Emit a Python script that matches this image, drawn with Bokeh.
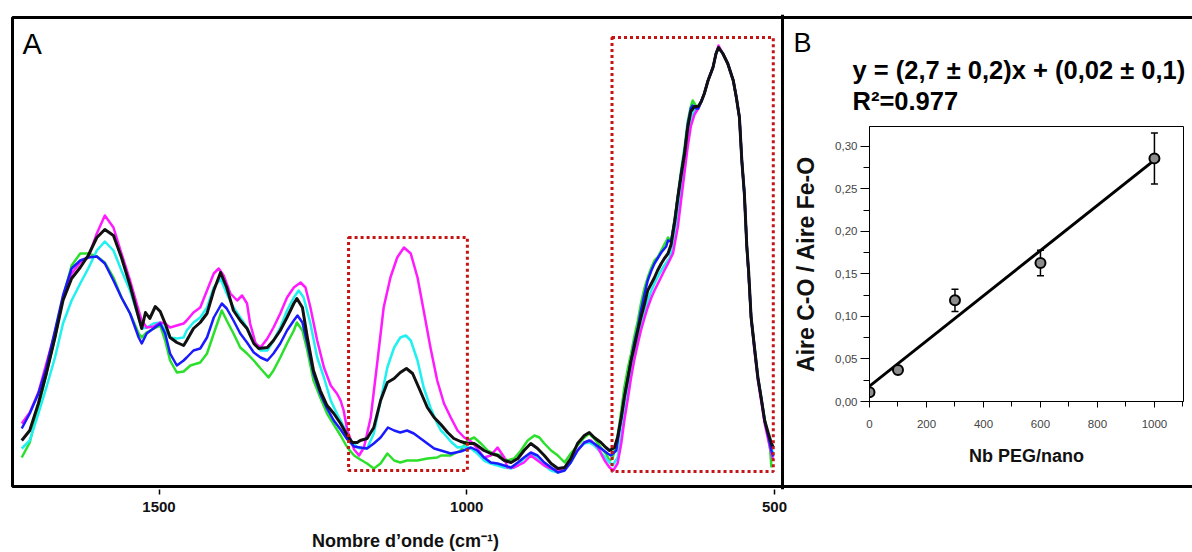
from bokeh.plotting import figure
from bokeh.models import (Range1d, FixedTicker, Label, Span, Whisker, TeeHead,
                          BoxAnnotation, ColumnDataSource, CustomJSTickFormatter)
from bokeh.embed import file_html
from bokeh.resources import INLINE

# ---------------- Panel A : FTIR spectra (wavenumber cm-1, absorbance a.u.) ----------------
green_wn = [1723,1710,1696,1683,1669,1656,1642,1628,1615,1601,
            1588,1574,1561,1547,1533,1528,1520,1509,1498,1490,
            1482,1471,1460,1449,1433,1422,1411,1398,1390,1379,
            1368,1357,1346,1335,1322,1314,1303,1292,1281,1276,
            1267,1259,1249,1238,1227,1216,1205,1194,1183,1173,
            1162,1151,1140,1129,1118,1108,1097,1080,1064,1048,
            1042,1026,1010,999,988,977,966,956,945,934,
            923,912,901,890,882,874,863,852,841,831,
            820,809,801,793,782,774,768,763,755,749,
            744,738,733,728,722,717,711,706,700,695,
            690,684,679,676,673,668,662,657,652,646,
            641,636,633,627,624,619,614,608,600,595,
            591,584,576,567,562,557,553,549,545,542,
            538,532,527,521,516,510,507,505]
green_abs = [0.29,0.44,0.79,1.13,1.49,1.89,2.21,2.33,2.33,2.30,
             2.24,2.09,1.89,1.73,1.53,1.49,1.54,1.58,1.61,1.46,
             1.26,1.14,1.15,1.21,1.24,1.33,1.53,1.76,1.66,1.53,
             1.39,1.33,1.26,1.18,1.09,1.16,1.29,1.43,1.56,1.64,
             1.56,1.36,1.06,0.89,0.73,0.62,0.51,0.39,0.31,0.27,
             0.23,0.18,0.23,0.33,0.26,0.24,0.26,0.26,0.28,0.29,
             0.31,0.31,0.36,0.46,0.49,0.43,0.36,0.33,0.31,0.26,
             0.28,0.36,0.46,0.51,0.49,0.43,0.36,0.31,0.24,0.33,
             0.41,0.49,0.53,0.48,0.39,0.33,0.26,0.28,0.49,0.76,
             0.99,1.19,1.33,1.49,1.66,1.83,1.99,2.09,2.19,2.26,
             2.29,2.36,2.42,2.45,2.49,2.45,2.69,2.92,3.15,3.40,
             3.65,3.80,3.86,3.80,3.78,3.85,3.93,4.06,4.19,4.33,
             4.39,4.33,4.23,4.06,3.89,3.69,3.25,2.93,2.40,2.12,
             1.69,1.36,1.09,0.86,0.66,0.49,0.36,0.19]

blue_wn = [1723,1710,1696,1683,1669,1656,1642,1628,1615,1601,
           1588,1574,1561,1547,1533,1528,1520,1509,1498,1490,
           1482,1471,1460,1455,1444,1433,1422,1411,1398,1390,
           1379,1368,1357,1346,1335,1324,1314,1303,1292,1281,
           1275,1267,1259,1249,1238,1227,1216,1205,1194,1183,
           1173,1162,1151,1140,1128,1118,1108,1097,1086,1075,
           1064,1053,1042,1026,1010,993,983,972,961,950,
           939,928,917,907,896,885,874,863,852,841,
           831,820,809,801,793,782,771,766,757,752,
           744,736,728,722,717,711,706,700,695,690,
           684,676,673,668,662,657,652,646,641,636,
           633,627,624,619,614,608,600,595,591,584,
           576,567,562,557,553,549,545,542,538,532,
           527,521,516,510,505,502]
blue_abs = [0.58,0.73,0.93,1.19,1.56,1.91,2.18,2.26,2.29,2.30,
            2.23,2.06,1.89,1.73,1.49,1.43,1.53,1.58,1.63,1.53,
            1.33,1.21,1.26,1.29,1.36,1.38,1.49,1.69,1.83,1.78,
            1.66,1.53,1.44,1.34,1.29,1.26,1.33,1.43,1.56,1.66,
            1.71,1.64,1.43,1.13,0.93,0.78,0.66,0.57,0.47,0.40,
            0.39,0.38,0.43,0.49,0.59,0.56,0.54,0.56,0.53,0.48,
            0.43,0.38,0.36,0.33,0.35,0.39,0.36,0.29,0.24,0.23,
            0.21,0.19,0.24,0.29,0.34,0.31,0.24,0.19,0.14,0.16,
            0.24,0.36,0.44,0.46,0.43,0.38,0.33,0.31,0.36,0.56,
            0.89,1.16,1.43,1.59,1.76,1.93,2.06,2.16,2.23,2.28,
            2.34,2.40,2.46,2.45,2.67,2.90,3.12,3.36,3.62,3.78,
            3.81,3.78,3.78,3.85,3.93,4.06,4.19,4.33,4.39,4.33,
            4.23,4.06,3.89,3.69,3.25,2.93,2.40,2.12,1.69,1.36,
            1.09,0.86,0.66,0.50,0.36,0.30]

cyan_wn = [1723,1710,1696,1683,1669,1656,1642,1628,1615,1601,
           1588,1574,1561,1547,1533,1528,1520,1509,1498,1490,
           1482,1471,1460,1455,1444,1433,1422,1411,1400,1390,
           1379,1368,1357,1346,1335,1324,1314,1303,1292,1281,
           1273,1265,1254,1243,1232,1221,1211,1200,1189,1178,
           1173,1162,1151,1140,1129,1118,1108,1099,1091,1080,
           1070,1059,1048,1042,1037,1026,1015,1004,993,983,
           972,961,950,939,928,917,907,896,885,874,
           863,852,841,831,820,809,801,793,782,771,
           763,755,749,744,738,733,728,722,717,711,
           706,700,695,687,679,670,662,657,652,646,
           641,636,630,624,619,614,608,600,595,591,
           584,576,567,562,557,553,549,545,542,538,
           532,527,521,516,510,505,502]
cyan_abs = [0.38,0.46,0.73,0.99,1.29,1.63,1.86,2.03,2.18,2.36,
            2.45,2.36,2.16,1.96,1.69,1.58,1.59,1.63,1.64,1.56,
            1.49,1.48,1.49,1.56,1.64,1.69,1.79,1.99,2.08,1.93,
            1.79,1.69,1.59,1.46,1.36,1.36,1.46,1.59,1.76,1.89,
            1.96,1.89,1.63,1.29,1.09,0.86,0.73,0.60,0.47,0.39,
            0.38,0.38,0.53,0.86,1.19,1.39,1.49,1.51,1.46,1.26,
            0.99,0.79,0.63,0.56,0.53,0.45,0.39,0.40,0.38,0.33,
            0.26,0.23,0.21,0.19,0.18,0.21,0.28,0.33,0.28,0.21,
            0.16,0.14,0.18,0.24,0.36,0.43,0.44,0.41,0.34,0.26,
            0.21,0.29,0.49,0.73,0.96,1.13,1.29,1.46,1.59,1.73,
            1.86,1.96,2.03,2.13,2.21,2.29,2.55,2.75,2.99,3.25,
            3.50,3.68,3.76,3.78,3.85,3.93,4.06,4.19,4.33,4.39,
            4.33,4.23,4.06,3.89,3.69,3.25,2.93,2.40,2.12,1.69,
            1.36,1.09,0.86,0.66,0.50,0.38,0.33]

magenta_wn = [1723,1710,1696,1683,1669,1656,1642,1628,1615,1601,
              1588,1574,1561,1547,1533,1528,1520,1509,1498,1490,
              1482,1471,1460,1455,1444,1433,1422,1411,1403,1395,
              1384,1373,1365,1357,1352,1343,1335,1324,1314,1303,
              1292,1281,1270,1262,1254,1243,1232,1221,1211,1205,
              1200,1194,1183,1175,1167,1156,1145,1135,1124,1113,
              1102,1091,1080,1070,1059,1048,1037,1026,1015,1004,
              993,983,972,961,950,939,934,923,907,896,
              885,874,863,852,841,831,820,809,798,787,
              776,768,762,755,749,744,738,733,728,722,
              717,711,706,700,695,687,679,673,665,657,
              652,646,641,636,630,624,619,614,608,600,
              595,591,584,576,567,562,557,553,549,545,
              542,538,532,527,521,516,510,505,502]
magenta_abs = [0.63,0.74,0.94,1.23,1.54,1.88,2.13,2.24,2.29,2.53,
               2.71,2.59,2.33,2.06,1.76,1.66,1.59,1.60,1.64,1.63,
               1.59,1.61,1.63,1.66,1.74,1.79,1.96,2.13,2.18,2.11,
               1.93,1.86,1.91,1.83,1.63,1.43,1.39,1.48,1.59,1.73,
               1.89,1.99,2.04,1.99,1.79,1.46,1.19,1.01,0.93,0.86,
               0.76,0.56,0.37,0.31,0.39,0.69,1.26,1.79,2.09,2.29,
               2.39,2.33,2.09,1.76,1.39,1.06,0.83,0.69,0.56,0.49,
               0.45,0.38,0.29,0.31,0.39,0.29,0.19,0.19,0.24,0.31,
               0.26,0.21,0.18,0.16,0.19,0.26,0.36,0.44,0.46,0.39,
               0.26,0.19,0.16,0.23,0.43,0.66,0.89,1.09,1.26,1.43,
               1.56,1.69,1.79,1.89,1.96,2.06,2.16,2.23,2.33,2.60,
               2.85,3.15,3.40,3.60,3.72,3.78,3.85,3.93,4.06,4.19,
               4.33,4.41,4.33,4.23,4.06,3.89,3.69,3.25,2.93,2.40,
               2.12,1.69,1.33,1.06,0.83,0.63,0.46,0.33,0.26]

black_wn = [1723,1710,1696,1683,1669,1656,1642,1628,1615,1601,
            1588,1574,1561,1547,1533,1528,1522,1515,1506,1498,
            1490,1482,1471,1460,1455,1444,1433,1422,1411,1400,
            1390,1379,1368,1357,1346,1338,1324,1314,1303,1292,
            1281,1276,1267,1259,1249,1238,1227,1216,1205,1194,
            1186,1178,1173,1162,1151,1140,1129,1118,1108,1098,
            1088,1078,1064,1053,1042,1031,1021,1010,999,988,
            983,972,961,950,939,928,917,907,896,885,
            874,863,852,841,831,820,809,801,793,782,
            774,768,760,755,749,744,738,733,728,722,
            717,711,706,700,695,690,684,679,673,668,
            662,657,652,646,641,636,630,624,619,614,
            608,600,595,591,584,576,567,562,557,553,
            549,545,542,538,532,527,521,516,510,505,
            502]
black_abs = [0.46,0.56,0.83,1.13,1.49,1.86,2.08,2.19,2.31,2.49,
             2.57,2.51,2.29,2.01,1.69,1.58,1.74,1.68,1.80,1.75,
             1.63,1.49,1.44,1.41,1.46,1.58,1.64,1.73,1.96,2.14,
             1.99,1.76,1.66,1.58,1.43,1.38,1.39,1.46,1.56,1.69,
             1.83,1.88,1.79,1.49,1.16,0.96,0.81,0.73,0.63,0.51,
             0.44,0.44,0.46,0.48,0.59,0.86,1.04,1.08,1.14,1.18,
             1.13,0.99,0.79,0.69,0.62,0.54,0.48,0.45,0.43,0.43,
             0.41,0.36,0.33,0.31,0.26,0.24,0.28,0.36,0.43,0.38,
             0.31,0.23,0.18,0.19,0.28,0.43,0.51,0.54,0.49,0.44,
             0.39,0.36,0.39,0.49,0.69,0.89,1.09,1.26,1.39,1.56,
             1.69,1.83,1.96,2.03,2.09,2.16,2.23,2.28,2.33,2.42,
             2.65,2.89,3.10,3.33,3.59,3.75,3.80,3.80,3.85,3.93,
             4.06,4.19,4.33,4.39,4.33,4.23,4.06,3.89,3.69,3.25,
             2.93,2.40,2.15,1.69,1.36,1.09,0.86,0.66,0.53,0.43,
             0.39]

# highlighted bands (dotted red boxes): C-O band and Fe-O band
band_left = [1192, 764]
band_right = [999, 502]
band_bottom = [0.16, 0.15]
band_top = [2.49, 4.49]

wn_ticks = [1500, 1000, 500]
panel_left_wn = 1738   # left edge of the framed figure
panel_split_wn = 487   # wavenumber at which panel A ends and panel B begins
abs_top = 4.69         # top edge of the framed figure (absorbance scale)

# ---------------- Panel B : calibration ----------------
peg_per_nano = [0, 100, 300, 600, 1000]
area_ratio = [0.011, 0.037, 0.119, 0.163, 0.286]
area_err = [0.003, 0.003, 0.013, 0.015, 0.030]
fit_slope = 2.66e-4
fit_intercept = 0.018
fit_x = [0, 1000]
b_xticks = [0, 200, 400, 600, 800, 1000]
b_xminor = [100, 300, 500, 700, 900, 1100]
b_yticks = [0.0, 0.05, 0.10, 0.15, 0.20, 0.25, 0.30]
b_yminor = [0.025, 0.075, 0.125, 0.175, 0.225, 0.275]

series = [(green_wn, green_abs, "#2be02b", 2.5),
          (cyan_wn, cyan_abs, "#1ff0f0", 2.5),
          (magenta_wn, magenta_abs, "#ff1aff", 2.5),
          (blue_wn, blue_abs, "#1a1aff", 2.5),
          (black_wn, black_abs, "#111111", 3)]
for xs, ys, _, _ in series:
    assert len(xs) == len(ys), (len(xs), len(ys))

FONT = "Liberation Sans"

# ============ Figure A (whole framed canvas) ============
pA = figure(width=1192, height=552, x_range=Range1d(1742.9, -179.1), y_range=Range1d(-0.03, 4.72),
            output_backend="svg", toolbar_location=None, y_axis_location=None,
            min_border_left=9, min_border_right=0, min_border_top=14, min_border_bottom=63)
pA.grid.visible = False
pA.outline_line_color = None
pA.background_fill_color = "white"
pA.border_fill_color = "white"

for xs, ys, col, lw in series:
    pA.line(xs, ys, line_color=col, line_width=lw, line_join="round")

pA.quad(left=band_left, right=band_right, bottom=band_bottom, top=band_top,
        fill_color=None, line_color="#c41414", line_width=3, line_dash="3 3")

# outer frame (open on the right, as the picture is cut there) and panel divider
pA.add_layout(BoxAnnotation(left=panel_left_wn, right=-400, bottom=0, top=abs_top,
                            fill_color=None, fill_alpha=0, line_color="black",
                            line_alpha=1.0, line_width=3))
pA.add_layout(Span(location=panel_split_wn, dimension="height", line_color="black", line_width=3))

ax = pA.xaxis[0]
ax.ticker = FixedTicker(ticks=wn_ticks, minor_ticks=[])
ax.axis_line_color = None
ax.major_tick_in = 0
ax.major_tick_out = 5
ax.major_tick_line_width = 1.5
ax.major_tick_line_color = "black"
ax.minor_tick_line_color = None
ax.major_label_standoff = 7
ax.major_label_text_font = "Liberation Sans Narrow, Liberation Sans"
ax.major_label_text_font_style = "bold"
ax.major_label_text_font_size = "15px"
ax.major_label_text_color = "#111111"

pA.add_layout(Label(x=13, y=446, x_units="screen", y_units="screen", text="A",
                    text_font=FONT, text_font_size="29px",
                    text_baseline="alphabetic", text_color="black"))
pA.add_layout(Label(x=784, y=447, x_units="screen", y_units="screen", text="B",
                    text_font=FONT, text_font_size="27px",
                    text_baseline="alphabetic", text_color="black"))
pA.add_layout(Label(x=843, y=420, x_units="screen", y_units="screen",
                    text="y = (2,7 ± 0,2)x + (0,02 ± 0,1)",
                    text_font=FONT, text_font_style="bold", text_font_size="25.5px",
                    text_baseline="alphabetic", text_color="black"))
pA.add_layout(Label(x=843, y=389, x_units="screen", y_units="screen",
                    text="R²=0.977",
                    text_font=FONT, text_font_style="bold", text_font_size="25.5px",
                    text_baseline="alphabetic", text_color="black"))

# ============ Axis title of panel A (small transparent figure under the A axis) ============
pT = figure(width=420, height=24, x_range=Range1d(0, 1), y_range=Range1d(0, 1),
            output_backend="svg", toolbar_location=None,
            x_axis_location=None, y_axis_location=None,
            min_border_left=0, min_border_right=0, min_border_top=0, min_border_bottom=0,
            styles={"position": "absolute", "left": "195px", "top": "528px"})
pT.grid.visible = False
pT.outline_line_color = None
pT.border_fill_color = None
pT.background_fill_color = None
pT.add_layout(Label(x=0.5, y=0.5, text="Nombre d’onde (cm⁻¹)", text_align="center",
                    text_baseline="middle",
                    text_font="Liberation Sans Narrow, Liberation Sans", text_font_style="bold",
                    text_font_size="18px", text_color="#111111"))

# ============ Figure B (inner calibration plot, overlaid on the right part) ============
pB = figure(width=408, height=552, x_range=Range1d(0, 1102), y_range=Range1d(0, 0.3235),
            output_backend="svg", toolbar_location=None, name="panelB",
            min_border_left=85, min_border_right=9, min_border_top=126, min_border_bottom=151,
            styles={"position": "absolute", "left": "784px", "top": "0px"})
pB.grid.visible = False
pB.outline_line_color = "black"
pB.outline_line_width = 1
pB.border_fill_color = None
pB.background_fill_color = "white"

src = ColumnDataSource(dict(x=peg_per_nano, y=area_ratio,
                            lo=[v - e for v, e in zip(area_ratio, area_err)],
                            hi=[v + e for v, e in zip(area_ratio, area_err)]))
pB.add_layout(Whisker(source=src, base="x", upper="hi", lower="lo", line_width=1.5,
                      upper_head=TeeHead(size=7, line_width=1.5),
                      lower_head=TeeHead(size=7, line_width=1.5)))
pB.line(fit_x, [fit_slope * v + fit_intercept for v in fit_x], line_color="black", line_width=3)
pB.scatter("x", "y", source=src, size=10, fill_color="#8c8c8c", line_color="black", line_width=2)

bx = pB.xaxis[0]
bx.ticker = FixedTicker(ticks=b_xticks, minor_ticks=b_xminor)
by = pB.yaxis[0]
by.ticker = FixedTicker(ticks=b_yticks, minor_ticks=b_yminor)
by.formatter = CustomJSTickFormatter(code="return tick.toFixed(2).replace('.', ',')")
for a in (bx, by):
    a.axis_line_color = "black"
    a.major_tick_in = 0
    a.minor_tick_in = 0
    a.major_label_text_font = FONT
    a.major_label_text_font_size = "11.5px"
    a.major_label_text_color = "#444444"
    a.axis_label_text_font = FONT
    a.axis_label_text_font_style = "bold"
    a.axis_label_text_color = "#111111"
bx.major_tick_out = 6
bx.minor_tick_out = 5
bx.major_label_standoff = 12
bx.axis_label = "Nb PEG/nano"
bx.axis_label_text_font_size = "18px"
bx.axis_label_standoff = 15
by.major_tick_out = 9
by.minor_tick_out = 6
by.major_label_standoff = 3
by.axis_label = "Aire C-O / Aire Fe-O"
by.axis_label_text_font_size = "23px"
by.axis_label_standoff = 13

open("out.html", "w").write(file_html([pA, pT, pB], INLINE))
